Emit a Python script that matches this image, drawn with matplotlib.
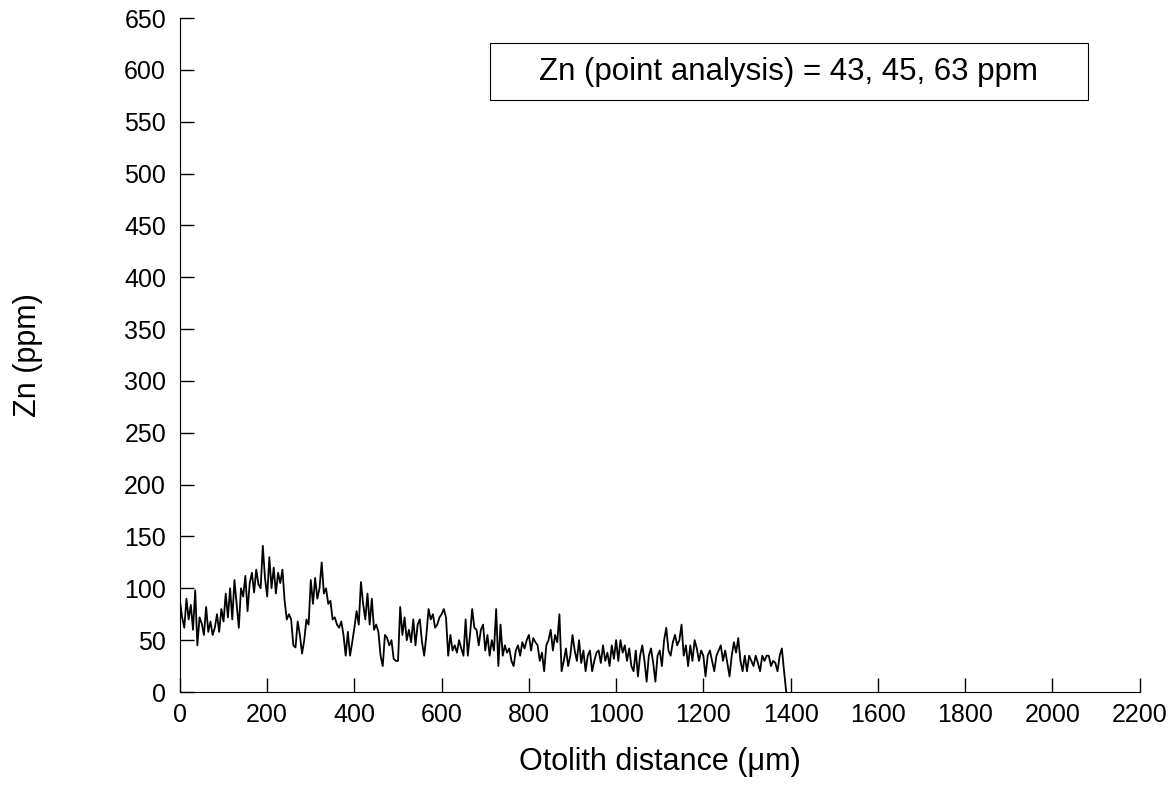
import numpy as np
import matplotlib.pyplot as plt
from matplotlib.patches import Rectangle

plt.rcParams['font.family'] = ['Liberation Sans', 'DejaVu Sans']

# LA-ICP-MS transect, Zn along the otolith (5 um steps)
step = 5
zn = [
    88, 72, 62, 90, 70, 84, 60, 98, 45, 72, 66, 55, 82, 58, 68, 55, 62, 75, 58, 80,
    68, 95, 72, 100, 70, 108, 85, 62, 100, 92, 112, 78, 105, 115, 96, 118, 104, 100, 141, 110,
    92, 130, 100, 120, 95, 115, 105, 118, 88, 70, 75, 70, 45, 43, 68, 55, 37, 50, 70, 65,
    108, 85, 110, 90, 100, 125, 95, 100, 85, 88, 70, 72, 65, 62, 68, 55, 35, 58, 35, 48,
    62, 78, 65, 106, 85, 70, 95, 65, 90, 60, 65, 58, 35, 25, 55, 52, 45, 50, 32, 30,
    30, 82, 55, 72, 50, 60, 48, 70, 45, 65, 70, 48, 35, 55, 80, 70, 75, 62, 65, 72,
    75, 80, 72, 35, 55, 40, 45, 38, 50, 42, 35, 70, 35, 55, 80, 62, 60, 45, 60, 65,
    40, 55, 35, 50, 40, 80, 25, 65, 35, 45, 38, 42, 30, 25, 40, 45, 35, 48, 42, 50,
    55, 40, 52, 48, 45, 30, 38, 20, 45, 50, 60, 40, 55, 48, 75, 20, 30, 42, 25, 35,
    55, 40, 30, 50, 28, 40, 20, 35, 40, 20, 30, 38, 40, 28, 45, 30, 38, 25, 45, 32,
    50, 30, 50, 38, 45, 30, 42, 25, 20, 40, 15, 35, 45, 30, 10, 35, 42, 28, 10, 35,
    40, 25, 50, 62, 40, 35, 48, 55, 45, 50, 65, 35, 45, 25, 45, 30, 50, 42, 30, 40,
    35, 15, 35, 40, 30, 20, 35, 40, 45, 30, 40, 28, 15, 35, 48, 38, 52, 30, 20, 35,
    20, 35, 30, 25, 35, 28, 20, 35, 30, 35, 35, 25, 30, 28, 20, 35, 42, 20, 0,
]
dist = np.arange(len(zn)) * step

note = "Zn (point analysis) = 43, 45, 63 ppm"

fig = plt.figure(figsize=(11.76, 8), dpi=100)
ax = fig.add_axes([0.153, 0.135, 0.816, 0.8425])
ax.plot(dist, zn, color='black', lw=1.3)

ax.set_xlim(0, 2200)
ax.set_ylim(0, 650)
ax.set_xticks(np.arange(0, 2201, 200))
ax.set_yticks(np.arange(0, 651, 50))
ax.tick_params(direction='in', length=10, width=1, labelsize=18)
ax.tick_params(axis='y', pad=10)
ax.tick_params(axis='x', pad=8)
for s in ['top', 'right']:
    ax.spines[s].set_visible(False)

ax.set_xlabel('Otolith distance (\u03bcm)', fontsize=22, labelpad=14)
ax.set_ylabel('Zn (ppm)', fontsize=22, labelpad=58)

# boxed note
ax.add_patch(Rectangle((0.323, 0.878), 0.623, 0.0846, transform=ax.transAxes,
                       fill=False, edgecolor='black', lw=0.8))
ax.text(0.6345, 0.92, note, transform=ax.transAxes, ha='center', va='center',
        fontsize=22.5)

plt.savefig('out.png')
